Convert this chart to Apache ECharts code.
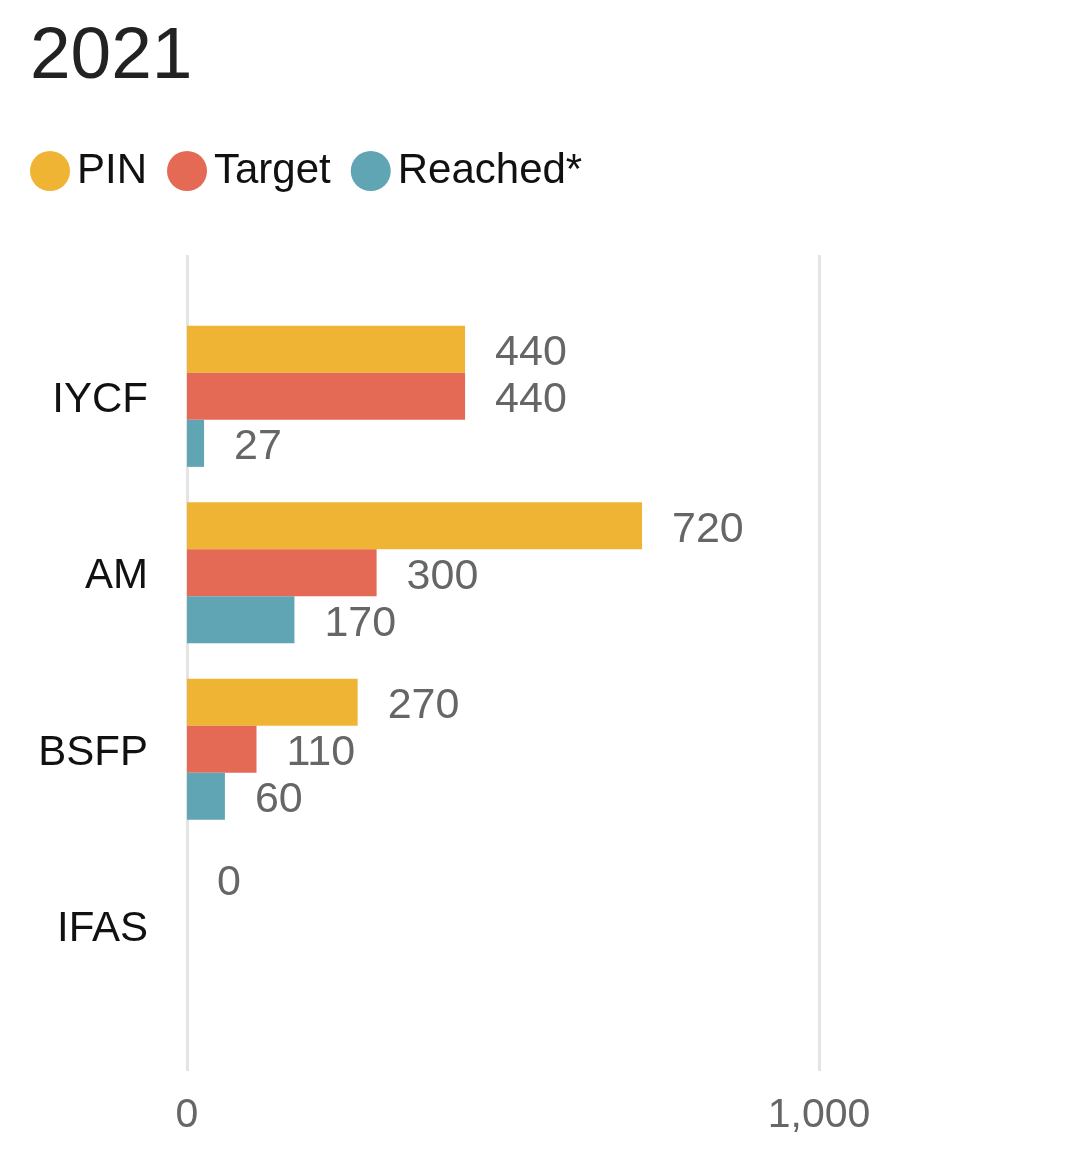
<!DOCTYPE html>
<html>
<head>
<meta charset="utf-8">
<script src="https://cdn.jsdelivr.net/npm/echarts@6/dist/echarts.min.js"></script>
<style>
  html, body { margin: 0; padding: 0; background: #fff; }
  #chart { width: 1075px; height: 1154px; }
</style>
</head>
<body>
<div id="chart"></div>
<script>
// data
const categories = ['IYCF', 'AM', 'BSFP', 'IFAS']
const pinValues = [440, 720, 270, 0]
const targetValues = [440, 300, 110, null]
const reachedValues = [27, 170, 60, null]
const xTicks = [0, 1000]

const FONT = '"Liberation Sans", Arial, sans-serif'
const colors = { pin: '#F0B434', target: '#E56A55', reached: '#5FA5B3' }

const chart = echarts.init(document.getElementById('chart'), null, { renderer: 'canvas' })

function barSeries(name, data, color) {
  return {
    name,
    type: 'bar',
    xAxisIndex: 1,
    yAxisIndex: 1,
    data,
    barGap: 0,
    barCategoryGap: '20%',
    itemStyle: { color },
    label: {
      show: true,
      position: 'right',
      distance: 30,
      offset: [0, 4],
      fontFamily: FONT,
      fontSize: 43,
      color: '#666'
    }
  }
}

chart.setOption({
  backgroundColor: '#fff',
  animation: false,
  title: {
    text: '2021',
    left: 25,
    top: 16,
    textStyle: { fontFamily: FONT, fontSize: 73, fontWeight: 'normal', color: '#222' }
  },
  legend: {
    left: 25,
    top: 145,
    icon: 'circle',
    itemWidth: 40,
    itemHeight: 40,
    itemGap: 20,
    textStyle: { fontFamily: FONT, fontSize: 42, color: '#111', padding: [0, 0, 0, 2] },
    data: ['PIN', 'Target', 'Reached*']
  },
  grid: [
    // grid 0 only draws the tall split lines and tick labels
    { left: 187, right: 256, top: 255, bottom: 83 },
    // grid 1 holds the bars
    { left: 187, right: 256, top: 308, height: 706 }
  ],
  xAxis: [
    {
      gridIndex: 0,
      type: 'value',
      min: xTicks[0],
      max: xTicks[xTicks.length - 1],
      interval: 1000,
      axisLine: { show: false },
      axisTick: { show: false },
      splitLine: { show: true, lineStyle: { color: '#e4e4e4', width: 3 } },
      axisLabel: {
        fontFamily: FONT,
        fontSize: 41,
        color: '#666',
        margin: 24,
        formatter: v => v.toLocaleString('en-US')
      }
    },
    {
      gridIndex: 1,
      type: 'value',
      min: xTicks[0],
      max: xTicks[xTicks.length - 1],
      show: false
    }
  ],
  yAxis: [
    { gridIndex: 0, type: 'category', data: categories, show: false },
    {
      gridIndex: 1,
      type: 'category',
      inverse: true,
      data: categories,
      axisLine: { show: false },
      axisTick: { show: false },
      axisLabel: {
        margin: 39,
        formatter: v => '{c|' + v + '}',
        rich: { c: { fontFamily: FONT, fontSize: 42, color: '#111', padding: [8, 0, 0, 0] } }
      }
    }
  ],
  series: [
    barSeries('PIN', pinValues, colors.pin),
    barSeries('Target', targetValues, colors.target),
    barSeries('Reached*', reachedValues, colors.reached)
  ]
})
</script>
</body>
</html>
